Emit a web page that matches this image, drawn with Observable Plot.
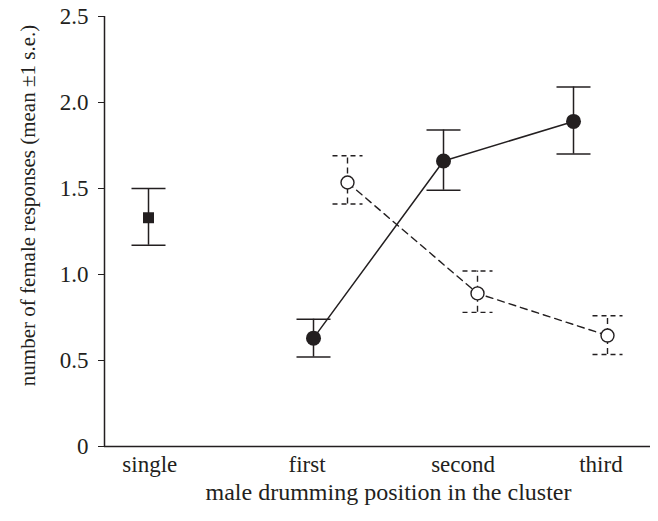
<!DOCTYPE html>
<html>
<head>
<meta charset="utf-8">
<script src="https://cdn.jsdelivr.net/npm/d3@7"></script>
<script src="https://cdn.jsdelivr.net/npm/@observablehq/plot@0.6"></script>
<style>
  html, body { margin: 0; padding: 0; background: #fff; }
</style>
</head>
<body>
<div id="chart"></div>
<script>
// ---- data ----
const categories = ["single", "first", "second", "third"];
const clusterPositions = ["first", "second", "third"];

const singleMean = 1.33;
const singleLo = 1.17;
const singleHi = 1.50;

// filled circles, solid line
const solidMean = [0.63, 1.66, 1.89];
const solidLo   = [0.52, 1.49, 1.70];
const solidHi   = [0.74, 1.84, 2.09];

// open circles, dashed line
const openMean = [1.535, 0.89, 0.645];
const openLo   = [1.41, 0.78, 0.535];
const openHi   = [1.69, 1.02, 0.76];

const yTicks = [0, 0.5, 1.0, 1.5, 2.0, 2.5];
const yTickLabels = ["0", "0.5", "1.0", "1.5", "2.0", "2.5"];
const xTitle = "male drumming position in the cluster";
const yTitle = "number of female responses (mean \u00b11 s.e.)";

// ---- layout (category slots on a linear scale) ----
const slot = {single: 0, first: 1.4, second: 2.4, third: 3.4};
const labelSlot = {single: 0.01, first: 1.22, second: 2.42, third: 3.48};
const X0 = -0.3385, X1 = 3.8615;
const INK = "#231f20";
const OFF = 17; // px offset of the two series around the slot

const single = [{pos: "single", mean: singleMean, lo: singleLo, hi: singleHi}];
const solid = clusterPositions.map((p, i) => ({pos: p, mean: solidMean[i], lo: solidLo[i], hi: solidHi[i]}));
const open = clusterPositions.map((p, i) => ({pos: p, mean: openMean[i], lo: openLo[i], hi: openHi[i]}));

const cap = {draw(ctx) { ctx.moveTo(-17, 0); ctx.lineTo(17, 0); }};
const capOpen = {draw(ctx) { ctx.moveTo(-15, 0); ctx.lineTo(15, 0); }};

const X = d => slot[d.pos];

const chart = Plot.plot({
  width: 658,
  height: 521,
  marginLeft: 104,
  marginRight: 8,
  marginTop: 16,
  marginBottom: 75,
  style: {fontFamily: "'Liberation Serif', 'Times New Roman', serif", fontSize: "23px", color: INK, background: "#fff"},
  x: {
    domain: [X0, X1],
    axis: null
  },
  y: {
    domain: [0, 2.5],
    ticks: yTicks,
    tickFormat: (d, i) => yTickLabels[i],
    tickSize: 6,
    tickPadding: 10,
    label: null
  },
  marks: [
    // axis lines
    Plot.ruleX([X0], {y1: 0, y2: 2.5, stroke: INK, strokeWidth: 1.5}),
    Plot.ruleY([0], {stroke: INK, strokeWidth: 1.5}),

    // category labels under the x axis
    Plot.text(categories, {x: c => labelSlot[c], y: 0, text: c => c, lineAnchor: "top", dy: 9, fontSize: 23, fill: INK}),

    // single
    Plot.ruleX(single, {x: X, y1: "lo", y2: "hi", stroke: INK, strokeWidth: 1.5}),
    Plot.dot(single, {x: X, y: "lo", symbol: cap, stroke: INK, strokeWidth: 1.5, fill: "none"}),
    Plot.dot(single, {x: X, y: "hi", symbol: cap, stroke: INK, strokeWidth: 1.5, fill: "none"}),
    Plot.dot(single, {x: X, y: "mean", symbol: "square", r: 6.2, fill: INK, stroke: "none"}),

    // open series (dashed)
    Plot.line(open, {x: X, y: "mean", dx: OFF, stroke: INK, strokeWidth: 1.4, strokeDasharray: "7,5"}),
    Plot.ruleX(open, {x: X, y1: "lo", y2: "hi", dx: OFF, stroke: INK, strokeWidth: 1.4, strokeDasharray: "6,4"}),
    Plot.dot(open, {x: X, y: "lo", dx: OFF, symbol: capOpen, stroke: INK, strokeWidth: 1.4, fill: "none", strokeDasharray: "5,4"}),
    Plot.dot(open, {x: X, y: "hi", dx: OFF, symbol: capOpen, stroke: INK, strokeWidth: 1.4, fill: "none", strokeDasharray: "5,4"}),
    Plot.dot(open, {x: X, y: "mean", dx: OFF, r: 6.5, fill: "#fff", stroke: INK, strokeWidth: 1.4}),

    // solid series
    Plot.line(solid, {x: X, y: "mean", dx: -OFF, stroke: INK, strokeWidth: 1.5}),
    Plot.ruleX(solid, {x: X, y1: "lo", y2: "hi", dx: -OFF, stroke: INK, strokeWidth: 1.5}),
    Plot.dot(solid, {x: X, y: "lo", dx: -OFF, symbol: cap, stroke: INK, strokeWidth: 1.5, fill: "none"}),
    Plot.dot(solid, {x: X, y: "hi", dx: -OFF, symbol: cap, stroke: INK, strokeWidth: 1.5, fill: "none"}),
    Plot.dot(solid, {x: X, y: "mean", dx: -OFF, r: 7.5, fill: INK, stroke: "none"}),

    // axis titles
    Plot.text([xTitle], {frameAnchor: "bottom", textAnchor: "middle", lineAnchor: "bottom", dx: 11, dy: 53, fontSize: 24, fill: INK}),
    Plot.text([yTitle], {frameAnchor: "left", textAnchor: "middle", lineAnchor: "middle", rotate: -90, dx: -76, dy: -26, fontSize: 21, fill: INK})
  ]
});

document.getElementById("chart").append(chart);
</script>
</body>
</html>
